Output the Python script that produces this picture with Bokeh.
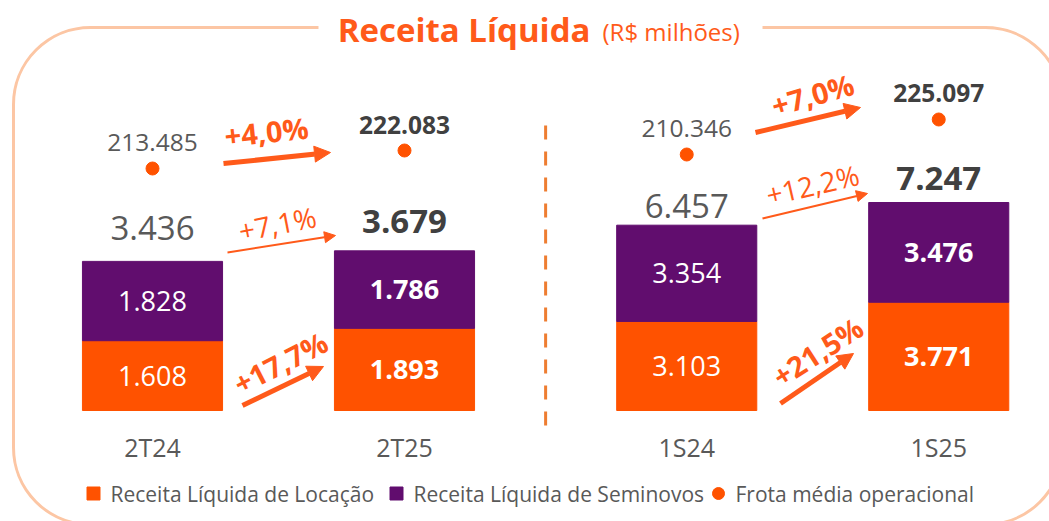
import numpy as np
from bokeh.plotting import figure
from bokeh.models import Range1d, BoxAnnotation, Arrow, NormalHead, ColumnDataSource
from bokeh.core.properties import value
from bokeh.embed import file_html
from bokeh.resources import INLINE

# ---------------- data ----------------
categories = ["2T24", "2T25", "1S24", "1S25"]
locacao = [1608, 1893, 3103, 3771]          # Receita Líquida de Locação
seminovos = [1828, 1786, 3354, 3476]        # Receita Líquida de Seminovos
frota = [213485, 222083, 210346, 225097]    # Frota média operacional
legend_labels = ["Receita Líquida de Locação", "Receita Líquida de Seminovos", "Frota média operacional"]
title_main = "Receita Líquida"
title_unit = "(R$ milhões)"

# ---------------- helpers ----------------
def fmt(v):
    return f"{v:,}".replace(",", ".")

def pct(a, b):
    return "+" + f"{(b / a - 1) * 100:.1f}".replace(".", ",") + "%"

W, H = 1049, 521
FONT = value("Open Sans")
ORANGE = "#FF5200"
PURPLE = "#610D6E"
ACCENT = "#FF5A1A"
GRAY = "#595959"
DARK = "#404040"
BORDER = "#FCC6A4"
DASH = "#EE7D31"

totals = [a + b for a, b in zip(locacao, seminovos)]
x_pos = np.arange(4) + np.repeat([0.0, 0.12], 2)   # two panels with a gap
BAR_W = 0.556

def lin_range(scale, ref_val, ref_cy):
    # linear range so that ref_val sits at canvas y ref_cy with `scale` px per unit
    return Range1d(ref_val - (H - ref_cy) / scale, ref_val + ref_cy / scale)

p = figure(width=W, height=H, output_backend="svg", toolbar_location=None,
           x_range=Range1d(-152 / 252, (W - 152) / 252),
           y_range=lin_range(0.0434, 0, 410),
           min_border=0, x_axis_location=None, y_axis_location=None,
           background_fill_color="white", border_fill_color="white")
p.outline_line_color = None
p.xgrid.visible = False
p.ygrid.visible = False
p.extra_y_ranges = {
    "barsR": lin_range(0.0287, 0, 410),
    "fleetL": lin_range(0.002093, frota[0], 168),
    "fleetR": lin_range(0.002373, frota[2], 154),
    "px": Range1d(0, H),
}
p.extra_x_ranges = {"px": Range1d(0, W)}

def PY(cy):
    return H - cy

# ---------------- frame decoration ----------------
p.add_layout(BoxAnnotation(left=13, right=1062, top=PY(27), bottom=PY(524),
                           x_range_name="px", y_range_name="px",
                           fill_alpha=0, line_color=BORDER, line_alpha=1, line_width=3,
                           border_radius=77, level="underlay"))
p.add_layout(BoxAnnotation(left=318, right=762, top=PY(0), bottom=PY(46),
                           x_range_name="px", y_range_name="px",
                           fill_color="white", fill_alpha=1, line_alpha=0,
                           level="underlay"))

p.text(x=[590], y=[PY(29)], text=[title_main], x_range_name="px", y_range_name="px",
       text_font=FONT, text_font_style="bold", text_font_size="33px",
       text_color=ACCENT, text_align="right", text_baseline="middle")
p.text(x=[602], y=[PY(31)], text=[title_unit], x_range_name="px", y_range_name="px",
       text_font=FONT, text_font_size="24px",
       text_color=ACCENT, text_align="left", text_baseline="middle")

# dashed separator between panels
mid = (x_pos[1] + x_pos[2]) / 2
p.segment(x0=[mid], x1=[mid], y0=[PY(125)], y1=[PY(437)], y_range_name="px",
          line_color=DASH, line_width=3, line_dash="14 12")

# ---------------- bars, labels, dots ----------------
styles = ["normal", "bold", "normal", "bold"]
tot_colors = [GRAY, DARK, GRAY, DARK]
tot_off = [-33, -29, -19, -24]

for sl, yr, fr in [(slice(0, 2), "default", "fleetL"), (slice(2, 4), "barsR", "fleetR")]:
    loc = np.array(locacao[sl], dtype=float)
    sem = np.array(seminovos[sl], dtype=float)
    tot = loc + sem
    src = ColumnDataSource(dict(
        x=x_pos[sl], loc=loc, tot=tot, loc_mid=loc / 2, sem_mid=loc + sem / 2,
        loc_txt=[fmt(v) for v in locacao[sl]], sem_txt=[fmt(v) for v in seminovos[sl]],
        tot_txt=[fmt(v) for v in totals[sl]], style=styles[sl],
        tcol=tot_colors[sl], off=tot_off[sl],
        fleet=frota[sl], fleet_txt=[fmt(v) for v in frota[sl]],
        cat=categories[sl], cat_y=[PY(446)] * 2,
    ))
    kw = {} if yr == "default" else {"y_range_name": yr}
    p.vbar(x="x", width=BAR_W, bottom=0, top="loc", source=src,
           fill_color=ORANGE, line_color=ORANGE, **kw)
    p.vbar(x="x", width=BAR_W, bottom="loc", top="tot", source=src,
           fill_color=PURPLE, line_color=PURPLE, **kw)
    p.text(x="x", y="loc_mid", text="loc_txt", source=src, text_font=FONT,
           text_font_style="style", text_font_size="27px", text_color="white",
           text_align="center", text_baseline="middle", **kw)
    p.text(x="x", y="sem_mid", text="sem_txt", source=src, text_font=FONT,
           text_font_style="style", text_font_size="27px", text_color="white",
           text_align="center", text_baseline="middle", **kw)
    p.text(x="x", y="tot", text="tot_txt", source=src, text_font=FONT,
           text_font_style="style", text_font_size="33px", text_color="tcol",
           text_align="center", text_baseline="middle", y_offset="off", **kw)
    p.scatter(x="x", y="fleet", source=src, size=13, marker="circle",
              fill_color=ORANGE, line_color=ORANGE, y_range_name=fr)
    p.text(x="x", y="fleet", text="fleet_txt", source=src, text_font=FONT,
           text_font_style="style", text_font_size="24.5px", text_color="tcol",
           text_align="center", text_baseline="middle", y_offset=-26,
           y_range_name=fr)
    p.text(x="x", y="cat_y", text="cat", source=src, text_font=FONT,
           text_font_size="25px", text_color=GRAY, text_align="center",
           text_baseline="middle", y_range_name="px")

# ---------------- growth arrows ----------------
growth = [
    # (label, start, end, thick, text center, angle deg)  -- pixel layout
    (pct(frota[0], frota[1]), (223, 163), (330, 152), True, (266, 131), 6),
    (pct(totals[0], totals[1]), (227, 252), (335, 235), False, (277, 223), 11),
    (pct(locacao[0], locacao[1]), (242, 405), (323, 366), True, (280, 362), 27),
    (pct(frota[2], frota[3]), (755, 132), (860, 107), True, (812, 94), 16),
    (pct(totals[2], totals[3]), (762, 218), (867, 193), False, (812, 184), 13),
    (pct(locacao[2], locacao[3]), (780, 403), (853, 353), True, (817, 351), 33),
]
for lab, s, e, thick, c, ang in growth:
    head = NormalHead(size=16 if thick else 11, fill_color=ACCENT, line_color=ACCENT)
    p.add_layout(Arrow(x_start=s[0], y_start=PY(s[1]), x_end=e[0], y_end=PY(e[1]),
                       x_range_name="px", y_range_name="px",
                       line_color=ACCENT, line_width=5 if thick else 2, end=head))
    p.text(x=[c[0]], y=[PY(c[1])], text=[lab], x_range_name="px", y_range_name="px",
           angle=np.deg2rad(ang), text_font=FONT,
           text_font_style="bold" if thick else "normal",
           text_font_size="29px" if thick else "28px",
           text_color=ACCENT, text_align="center", text_baseline="middle")

# ---------------- legend (manual) ----------------
leg_x = [93, 396, 718]
leg_markers = ["square", "square", "circle"]
leg_colors = [ORANGE, PURPLE, ORANGE]
leg_sizes = [13, 13, 12]
p.scatter(x=leg_x, y=[PY(493)] * 3, marker=leg_markers, size=leg_sizes,
          fill_color=leg_colors, line_color=leg_colors,
          x_range_name="px", y_range_name="px")
p.text(x=[x + 17 for x in leg_x], y=[PY(493)] * 3, text=legend_labels,
       x_range_name="px", y_range_name="px", text_font=FONT, text_font_size="21px",
       text_color=GRAY, text_align="left", text_baseline="middle")

open("out.html", "w").write(file_html(p, INLINE))
